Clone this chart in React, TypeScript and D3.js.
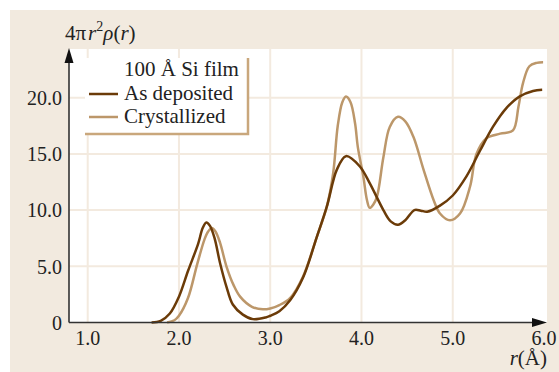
import React from "react";
import * as d3 from "d3";

const depositedR = [1.7, 1.8, 1.9, 2.0, 2.1, 2.21, 2.26, 2.3, 2.34, 2.39, 2.45, 2.52, 2.59, 2.7, 2.81, 2.95, 3.0, 3.1, 3.22, 3.36, 3.51, 3.62, 3.73, 3.83, 3.98, 4.09, 4.24, 4.32, 4.4, 4.48, 4.58, 4.65, 4.72, 4.86, 5.0, 5.15, 5.3, 5.44, 5.59, 5.73, 5.88, 5.98];
const depositedV = [0, 0.15, 0.8, 2.3, 4.6, 7.0, 8.4, 8.9, 8.6, 7.5, 5.3, 3.2, 1.6, 0.7, 0.3, 0.45, 0.6, 1.0, 2.0, 4.0, 7.6, 10.3, 13.6, 14.8, 13.9, 12.4, 10.0, 9.0, 8.7, 9.1, 10.0, 9.95, 9.86, 10.4, 11.3, 13.0, 15.3, 17.4, 19.1, 20.1, 20.6, 20.7];

const crystalR = [1.87, 1.95, 2.0, 2.1, 2.2, 2.28, 2.32, 2.36, 2.4, 2.45, 2.52, 2.6, 2.67, 2.8, 2.92, 3.0, 3.1, 3.22, 3.36, 3.51, 3.62, 3.69, 3.74, 3.79, 3.83, 3.88, 3.93, 3.96, 4.02, 4.06, 4.09, 4.13, 4.17, 4.24, 4.31, 4.4, 4.48, 4.57, 4.68, 4.79, 4.86, 4.97, 5.08, 5.19, 5.26, 5.37, 5.52, 5.66, 5.72, 5.77, 5.84, 5.92, 5.99];
const crystalV = [0, 0.2, 0.6, 2.2, 5.2, 7.4, 8.1, 8.4, 8.1, 7.1, 5.0, 3.3, 2.3, 1.4, 1.17, 1.25, 1.55, 2.2, 4.1, 7.6, 10.3, 13.3, 17.5, 19.6, 20.1, 19.6, 17.7, 15.6, 13.0, 10.9, 10.2, 10.5, 11.2, 14.7, 17.4, 18.3, 17.9, 16.5, 13.6, 10.9, 9.7, 9.1, 9.7, 12.1, 15.0, 16.4, 16.8, 17.1, 19.2, 21.3, 22.8, 23.1, 23.15];

const xTicks = [1, 2, 3, 4, 5, 6];
const yTicks = [0, 5, 10, 15, 20];
const seriesNames = ["As deposited", "Crystallized"];
const legendTitle = "100 Å Si film";

const DARK = "#6b3b08";
const TAN = "#bc976a";
const BEIGE = "#f2eadf";
const GRID = "#f3eadf";
const FONT = "'Liberation Serif', 'Times New Roman', serif";

export default function App() {
  const x = d3.scaleLinear().domain([1, 6]).range([87.7, 544]);
  const y = d3.scaleLinear().domain([0, 20]).range([322.5, 97.7]);
  const left = 69, right = 547, top = 49, bottom = 322.5;

  const line = d3
    .line<[number, number]>()
    .x((d) => x(d[0]))
    .y((d) => Math.min(y(d[1]), bottom))
    .curve(d3.curveCatmullRom.alpha(0.5));

  const dep = depositedR.map((r, i) => [r, depositedV[i]] as [number, number]);
  const cry = crystalR.map((r, i) => [r, crystalV[i]] as [number, number]);

  const fmt = (v: number) => (v === 0 ? "0" : v.toFixed(1));

  return (
    <svg width={559} height={372} style={{ position: "absolute", left: 0, top: 0 }} fontFamily={FONT}>
      <rect x={10} y={10} width={549} height={362} fill={BEIGE} />
      <rect x={left} y={top} width={right - left} height={bottom - top} fill="#fff" />
      {xTicks.filter((t) => t < 6).map((t) => (
        <line key={"gx" + t} x1={x(t)} x2={x(t)} y1={top} y2={bottom} stroke={GRID} strokeWidth={2} />
      ))}
      {yTicks.filter((t) => t > 0).map((t) => (
        <line key={"gy" + t} x1={left} x2={right} y1={y(t)} y2={y(t)} stroke={GRID} strokeWidth={2} />
      ))}
      {/* legend */}
      <rect x={85} y={58} width={163} height={76} fill="#fff" />
      <polyline points="248,58 248,134 85,134" fill="none" stroke="#c9a77c" strokeWidth={2.5} />
      <text x={124} y={76} fontSize={21} fill="#222">{legendTitle}</text>
      <line x1={89} x2={118} y1={94} y2={94} stroke={DARK} strokeWidth={2.5} />
      <text x={124} y={100} fontSize={21} fill="#222">{seriesNames[0]}</text>
      <line x1={89} x2={118} y1={117} y2={117} stroke={TAN} strokeWidth={2.5} />
      <text x={124} y={123} fontSize={21} fill="#222">{seriesNames[1]}</text>

      <path d={line(cry) || ""} fill="none" stroke={TAN} strokeWidth={2.5} strokeLinejoin="round" />
      <path d={line(dep) || ""} fill="none" stroke={DARK} strokeWidth={2.5} strokeLinejoin="round" />

      {/* axes */}
      <line x1={left} x2={left} y1={bottom} y2={60} stroke="#333" strokeWidth={1.6} />
      <polygon points={`${left},48 ${left - 4.5},63 ${left + 4.5},63`} fill="#111" />
      <line x1={left} x2={533} y1={bottom} y2={bottom} stroke="#333" strokeWidth={1.6} />
      <polygon points={`547,${bottom} 532,${bottom - 4.5} 532,${bottom + 4.5}`} fill="#111" />

      {yTicks.map((t) => (
        <text key={"ty" + t} x={62} y={y(t)} dy="0.36em" textAnchor="end" fontSize={20} fill="#222">
          {fmt(t)}
        </text>
      ))}
      {xTicks.map((t) => (
        <text key={"tx" + t} x={x(t)} y={345} textAnchor="middle" fontSize={20} fill="#222">
          {fmt(t)}
        </text>
      ))}
      <text x={65} y={40} fontSize={21} fill="#222">
        4π<tspan fontStyle="italic" dx={2}>r</tspan>
        <tspan fontSize={14} dy={-9}>2</tspan>
        <tspan fontStyle="italic" dy={9}>ρ</tspan>(<tspan fontStyle="italic">r</tspan>)
      </text>
      <text x={547} y={365} textAnchor="end" fontSize={21} fill="#222">
        <tspan fontStyle="italic">r</tspan>(Å)
      </text>
    </svg>
  );
}
